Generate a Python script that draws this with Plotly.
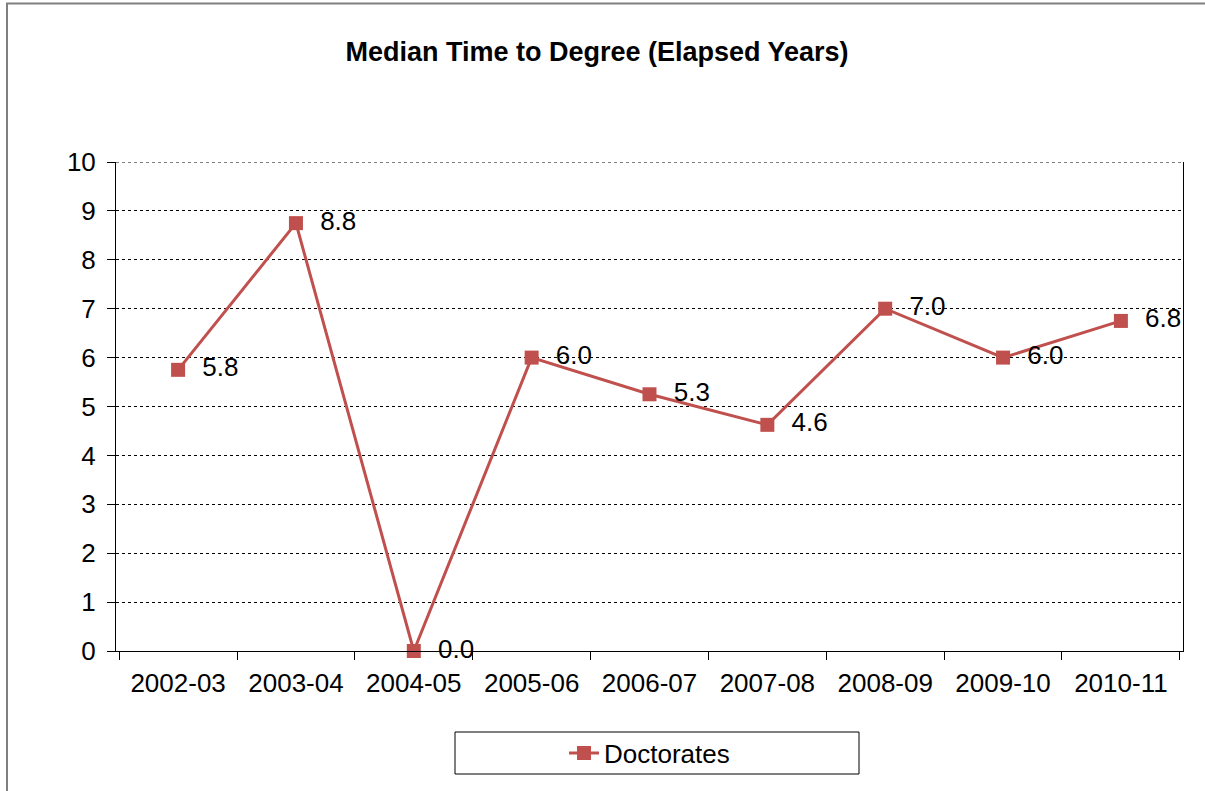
import plotly.graph_objects as go

# Academic years and median elapsed years to doctorate
years = ["2002-03", "2003-04", "2004-05", "2005-06", "2006-07",
         "2007-08", "2008-09", "2009-10", "2010-11"]
doctorates = [5.75, 8.75, 0.0, 6.0, 5.25, 4.625, 7.0, 6.0, 6.75]
y_ticks = list(range(0, 11))

RED = "#C0504D"
FONT = "Liberation Sans, Arial, sans-serif"
FS = 26

# pixel geometry of the plotting area inside the 1205x791 canvas
W, H = 1205, 791
L, R, T, B = 116, 1183, 162, 651
pw, ph = R - L, B - T


def px(x):
    return (x - L) / pw


def py(y):
    return (B - y) / ph


fig = go.Figure()
fig.add_trace(go.Scatter(
    x=years, y=doctorates, name="Doctorates",
    mode="lines+markers+text",
    line=dict(color=RED, width=3),
    marker=dict(symbol="square", size=14, color=RED),
    texttemplate="  %{y:.1f}", textposition="middle right",
    textfont=dict(family=FONT, size=FS, color="black"),
    cliponaxis=False,
))

fig.update_layout(
    width=W, height=H,
    margin=dict(l=L, r=W - R, t=T, b=H - B),
    paper_bgcolor="white", plot_bgcolor="white",
    font=dict(family=FONT, size=FS, color="black"),
    title=dict(text="<b>Median Time to Degree (Elapsed Years)</b>",
               x=597 / W, xanchor="center", y=1 - 52 / H, yanchor="middle",
               yref="container", font=dict(family=FONT, size=27, color="black")),
    showlegend=True,
    legend=dict(orientation="h", x=0.5, xanchor="center",
                y=py(753), yanchor="middle", bgcolor="rgba(0,0,0,0)",
                font=dict(family=FONT, size=FS, color="black")),
    xaxis=dict(type="category", showline=True, linecolor="black", linewidth=1,
               ticks="outside", tickson="boundaries", ticklen=8, tickcolor="black",
               ticklabelstandoff=9, showgrid=False, tickfont=dict(size=FS)),
    yaxis=dict(range=[0, 10], tickvals=y_ticks, showline=True, linecolor="black",
               linewidth=1, mirror=True, ticks="outside", ticklen=8, tickcolor="black",
               ticklabelstandoff=6,
               showgrid=True, gridcolor="black", gridwidth=1, griddash="dot",
               zeroline=False, tickfont=dict(size=FS)),
    shapes=[
        # outer chart frame
        dict(type="rect", xref="paper", yref="paper",
             x0=px(7), x1=px(W + 10), y0=py(H + 10), y1=py(3.5),
             line=dict(color="#7f7f7f", width=2), fillcolor="rgba(0,0,0,0)", layer="below"),
        # dotted gridline along the top of the value range
        dict(type="line", xref="paper", yref="y", x0=0, x1=1, y0=10, y1=10,
             line=dict(color="black", width=1, dash="dot")),
        # legend frame
        dict(type="rect", xref="paper", yref="paper",
             x0=px(455), x1=px(859), y0=py(774), y1=py(732),
             line=dict(color="black", width=1), fillcolor="rgba(0,0,0,0)"),
    ],
)

fig.write_html("out.html")
